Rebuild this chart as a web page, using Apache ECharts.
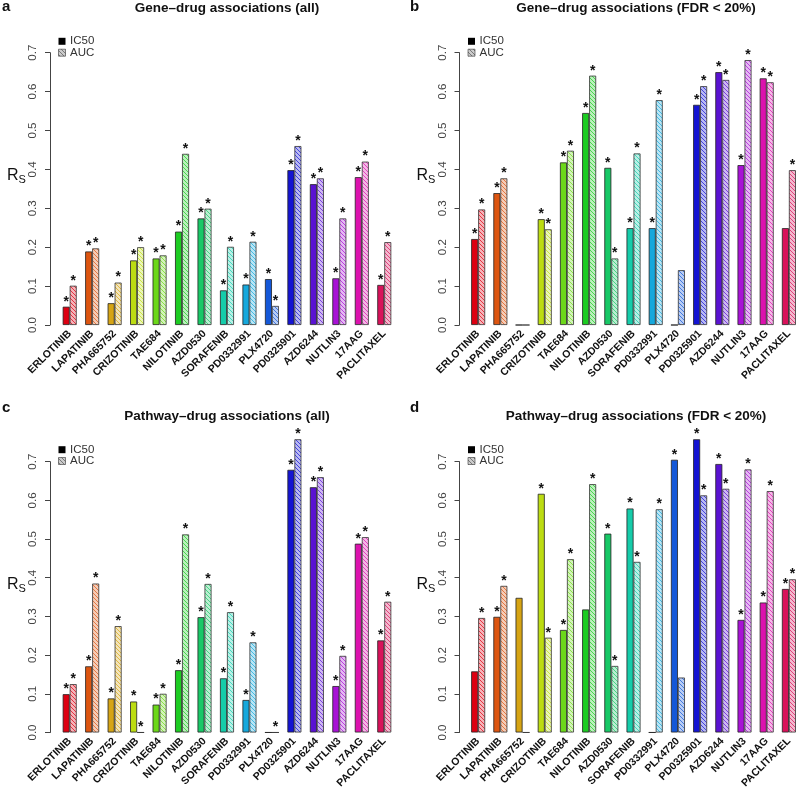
<!DOCTYPE html>
<html><head><meta charset="utf-8">
<script src="https://cdn.jsdelivr.net/npm/echarts@6/dist/echarts.min.js"></script>
<style>html,body{margin:0;padding:0;background:#fff}#c{width:800px;height:791px}</style>
</head><body><div id="c"></div>
<script>
// ---------- data ----------
const drugs = ['ERLOTINIB','LAPATINIB','PHA665752','CRIZOTINIB','TAE684','NILOTINIB','AZD0530','SORAFENIB','PD0332991','PLX4720','PD0325901','AZD6244','NUTLIN3','17AAG','PACLITAXEL'];
const yTicks = [0, 0.1, 0.2, 0.3, 0.4, 0.5, 0.6, 0.7];

const titles = ['Gene\u2013drug associations (all)','Gene\u2013drug associations (FDR < 20%)','Pathway\u2013drug associations (all)','Pathway\u2013drug associations (FDR < 20%)'];
const letters = ['a','b','c','d'];

// a: gene-drug (all)
const geneAllIC50 = [0.047,0.189,0.056,0.166,0.171,0.240,0.274,0.089,0.104,0.118,0.398,0.362,0.120,0.380,0.103];
const geneAllAUC  = [0.101,0.197,0.109,0.200,0.179,0.440,0.299,0.201,0.214,0.049,0.460,0.377,0.274,0.420,0.213];
const geneAllIC50Star = [1,1,1,1,1,1,1,1,1,1,1,1,1,1,1];
const geneAllAUCStar  = [1,1,1,1,1,1,1,1,1,1,1,1,1,1,1];
// b: gene-drug (FDR < 20%)
const geneFdrIC50 = [0.221,0.339,0,0.272,0.418,0.545,0.404,0.249,0.249,0,0.566,0.650,0.411,0.634,0.249];
const geneFdrAUC  = [0.297,0.377,0,0.246,0.448,0.641,0.171,0.441,0.578,0.141,0.614,0.630,0.681,0.624,0.398];
const geneFdrIC50Star = [1,1,0,1,1,1,1,1,1,0,1,1,1,1,0];
const geneFdrAUCStar  = [1,1,0,1,1,1,1,1,1,0,1,1,1,1,1];
// c: pathway-drug (all)
const pathAllIC50 = [0.099,0.171,0.088,0.080,0.072,0.161,0.298,0.140,0.084,0,0.679,0.634,0.120,0.488,0.238];
const pathAllAUC  = [0.125,0.385,0.275,0,0.100,0.512,0.384,0.311,0.233,0,0.758,0.660,0.198,0.505,0.338];
const pathAllIC50Star = [1,1,1,1,1,1,1,1,1,0,1,1,1,1,1];
const pathAllAUCStar  = [1,1,1,1,1,1,1,1,1,1,1,1,1,1,1];
// d: pathway-drug (FDR < 20%)
const pathFdrIC50 = [0.158,0.299,0.348,0.617,0.265,0.318,0.514,0.579,0,0.705,0.758,0.694,0.291,0.336,0.371];
const pathFdrAUC  = [0.296,0.379,0,0.245,0.448,0.642,0.172,0.441,0.577,0.142,0.613,0.630,0.680,0.624,0.396];
const pathFdrIC50Star = [0,1,0,1,1,0,1,1,0,1,1,1,1,1,1];
const pathFdrAUCStar  = [1,1,0,1,1,1,1,1,1,0,1,1,1,1,1];

// ---------- style ----------
const palette = ['#dd0011','#dd5510','#d6a414','#bcdc12','#6cd81a','#1ccc22','#18c866','#16ccaa','#16a8dc','#1458d8','#1414d2','#5a12d2','#a812d6','#dc12ae','#d8125a'];

function lighten(hex, f) {
  const n = parseInt(hex.slice(1), 16);
  const r = (n >> 16) & 255, g = (n >> 8) & 255, b = n & 255;
  const m = v => Math.round(v + (255 - v) * f);
  return 'rgb(' + m(r) + ',' + m(g) + ',' + m(b) + ')';
}
function hatch(hex) {
  const c = document.createElement('canvas');
  c.width = 4; c.height = 4;
  const g = c.getContext('2d');
  g.fillStyle = lighten(hex, 0.7);
  g.fillRect(0, 0, 4, 4);
  g.strokeStyle = lighten(hex, 0.15);
  g.lineWidth = 0.9;
  g.beginPath();
  g.moveTo(0, 0); g.lineTo(4, 4);
  g.moveTo(-1, 3); g.lineTo(1, 5);
  g.moveTo(3, -1); g.lineTo(5, 1);
  g.stroke();
  return { image: c, repeat: 'repeat' };
}
function grayHatch() { return hatch('#555555'); }

const panels = [
  { ic50: geneAllIC50, auc: geneAllAUC, s1: geneAllIC50Star, s2: geneAllAUCStar },
  { ic50: geneFdrIC50, auc: geneFdrAUC, s1: geneFdrIC50Star, s2: geneFdrAUCStar },
  { ic50: pathAllIC50, auc: pathAllAUC, s1: pathAllIC50Star, s2: pathAllAUCStar },
  { ic50: pathFdrIC50, auc: pathFdrAUC, s1: pathFdrIC50Star, s2: pathFdrAUCStar }
];

// layout
const band = 22.47;
const layout = [
  { axisX: 50,    firstC: 69.7,  top: 52.7,  bottom: 325.0, titleX: 227, titleY: 8,   letX: 2,   letY: 7 },
  { axisX: 459.5, firstC: 478.3, top: 52.7,  bottom: 325.0, titleX: 636, titleY: 8,   letX: 410, letY: 7 },
  { axisX: 50,    firstC: 69.7,  top: 461.7, bottom: 733.3, titleX: 227, titleY: 416, letX: 2,   letY: 408 },
  { axisX: 459.5, firstC: 478.3, top: 461.7, bottom: 733.3, titleX: 636, titleY: 416, letX: 410, letY: 408 }
];
const legendY = [[41.3, 52.7], [41.3, 52.7], [449.7, 461.0], [449.7, 461.0]];

const grids = [], xAxes = [], yAxes = [], series = [], graphics = [];
const font = 'Liberation Sans, Arial, sans-serif';

panels.forEach((p, i) => {
  const L = layout[i];
  const left = L.firstC - band / 2;
  grids.push({ left: left, top: L.top, width: band * drugs.length, height: L.bottom - L.top, containLabel: false });
  xAxes.push({
    type: 'category', gridIndex: i, data: drugs, boundaryGap: true,
    axisLine: { show: false }, axisTick: { show: false },
    axisLabel: { rotate: 45, interval: 0, margin: 7, fontSize: 10.5, fontWeight: 'bold', color: '#111', fontFamily: font }
  });
  yAxes.push({
    type: 'value', gridIndex: i, min: yTicks[0], max: yTicks[yTicks.length - 1], interval: 0.1,
    offset: left - L.axisX,
    axisLine: { show: true, lineStyle: { color: '#444', width: 1 } },
    axisTick: { show: true, length: 5, lineStyle: { color: '#444' } },
    splitLine: { show: false },
    axisLabel: { rotate: 90, margin: 11, fontSize: 11.5, color: '#444', fontFamily: font, formatter: v => v.toFixed(1) }
  });
  const lbl = stars => ({
    show: true, position: 'top', distance: -2, fontSize: 14, fontWeight: 'bold', color: '#111', fontFamily: font,
    formatter: prm => stars[prm.dataIndex] ? '*' : ''
  });
  series.push({
    type: 'bar', name: 'IC50', xAxisIndex: i, yAxisIndex: i, barWidth: 7, barGap: '0%', clip: false,
    data: p.ic50.map((v, k) => ({ value: v, itemStyle: { color: palette[k] } })),
    itemStyle: { borderColor: '#222', borderWidth: 0.8 },
    label: lbl(p.s1), silent: true
  });
  series.push({
    type: 'bar', name: 'AUC', xAxisIndex: i, yAxisIndex: i, barWidth: 7, barGap: '0%', clip: false,
    data: p.auc.map((v, k) => ({ value: v, itemStyle: { color: hatch(palette[k]) } })),
    itemStyle: { borderColor: '#333', borderWidth: 0.8 },
    label: lbl(p.s2), silent: true
  });

  graphics.push({ type: 'text', x: L.titleX, y: L.titleY, style: { text: titles[i], font: 'bold 13.5px ' + font, fill: '#111', align: 'center', verticalAlign: 'middle' } });
  graphics.push({ type: 'text', x: L.letX, y: L.letY, style: { text: letters[i], font: 'bold 15px ' + font, fill: '#111', align: 'left', verticalAlign: 'middle' } });
  const midY = (L.top + L.bottom) / 2 - 13;
  graphics.push({ type: 'text', x: L.axisX - 43, y: midY, style: {
    text: '{r|R}{s|S}', verticalAlign: 'middle', align: 'left',
    rich: { r: { fontSize: 16, fontFamily: font, fill: '#111' }, s: { fontSize: 11, fontFamily: font, fill: '#111', padding: [9, 0, 0, 0] } }
  } });
  const lx = L.axisX + 12;
  const ly = legendY[i];
  graphics.push({ type: 'rect', shape: { x: lx - 3.5, y: ly[0] - 3.5, width: 7, height: 7 }, style: { fill: '#000' } });
  graphics.push({ type: 'rect', shape: { x: lx - 3.5, y: ly[1] - 3.5, width: 7, height: 7 }, style: { fill: grayHatch(), stroke: '#333', lineWidth: 0.6 } });
  graphics.push({ type: 'text', x: lx + 8, y: ly[0], style: { text: 'IC50', font: '11.5px ' + font, fill: '#333', verticalAlign: 'middle' } });
  graphics.push({ type: 'text', x: lx + 8, y: ly[1], style: { text: 'AUC', font: '11.5px ' + font, fill: '#333', verticalAlign: 'middle' } });
});

const chart = echarts.init(document.getElementById('c'), null, { renderer: 'canvas' });
chart.setOption({
  backgroundColor: '#fff',
  animation: false,
  grid: grids, xAxis: xAxes, yAxis: yAxes, series: series,
  graphic: graphics
});
</script></body></html>
